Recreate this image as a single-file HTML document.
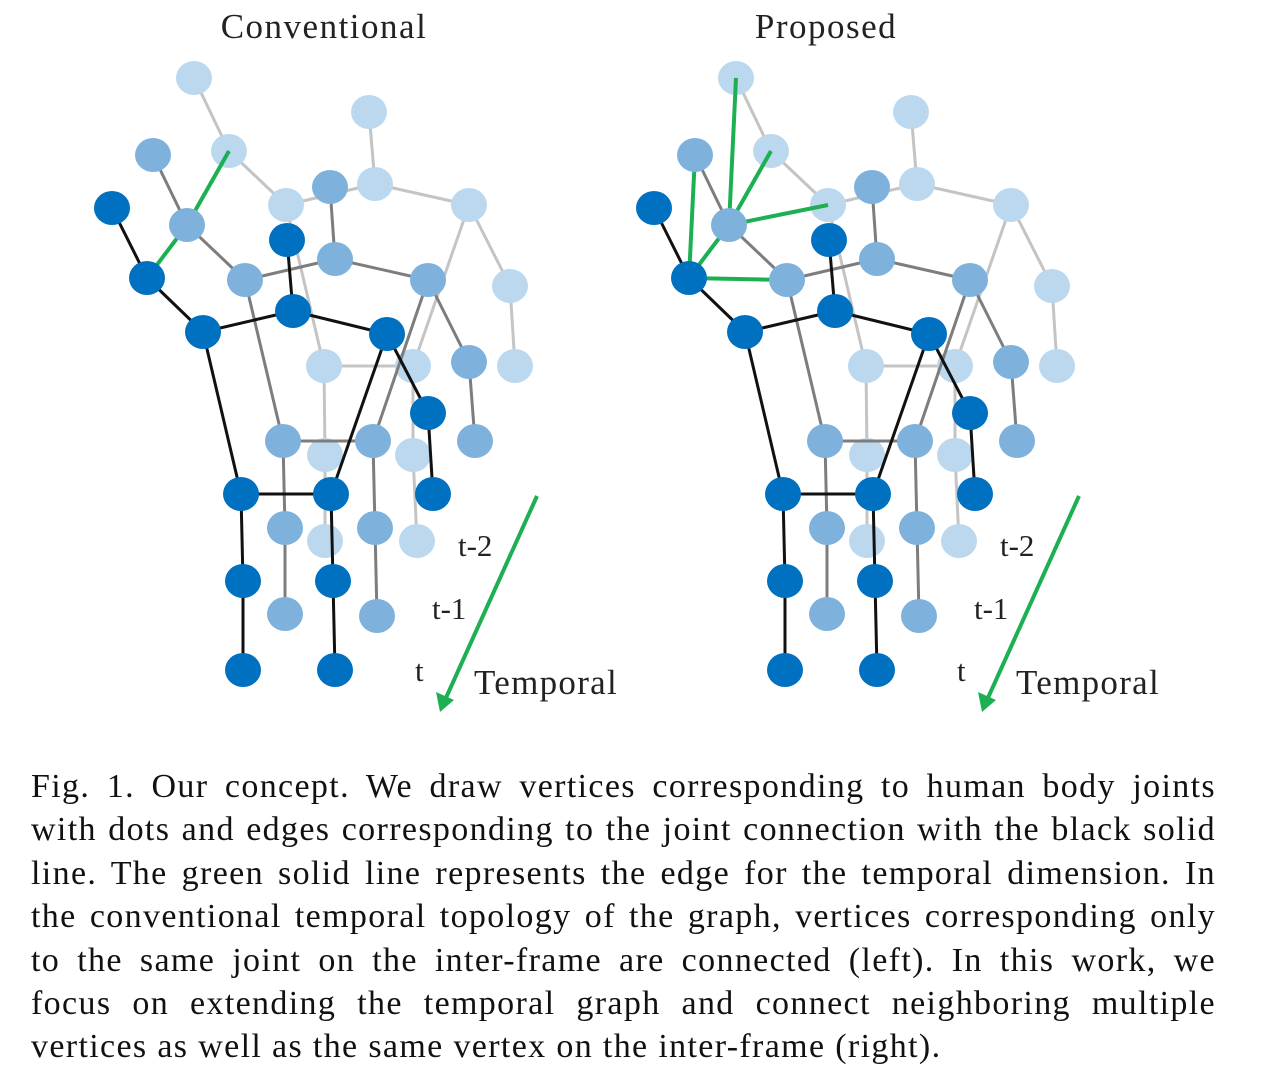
<!DOCTYPE html>
<html><head><meta charset="utf-8"><style>
body{margin:0;background:#fff;width:1274px;height:1082px;overflow:hidden;font-family:"Liberation Serif",serif;}
svg{position:absolute;left:0;top:0}
.cap{position:absolute;left:31px;top:765px;width:1185px;font-size:34px;letter-spacing:1.35px;line-height:43.4px;text-align:justify;text-align-last:justify;color:#111;white-space:nowrap}
.cap span{display:block;white-space:normal}
</style></head><body>
<svg id="s" width="1274" height="760" xmlns="http://www.w3.org/2000/svg" font-family="Liberation Serif, serif">
<text x="324" y="38" font-size="35" letter-spacing="1.5" text-anchor="middle" fill="#222">Conventional</text>
<text x="826" y="38" font-size="35" letter-spacing="1.5" text-anchor="middle" fill="#222">Proposed</text>
<g id="g"></g>
<text x="458" y="556" font-size="31" fill="#222">t-2</text>
<text x="432" y="619" font-size="31" fill="#222">t-1</text>
<text x="415" y="681" font-size="31" fill="#222">t</text>
<text x="474" y="694" font-size="35" letter-spacing="1.3" fill="#222">Temporal</text>
<text x="1000" y="556" font-size="31" fill="#222">t-2</text>
<text x="974" y="619" font-size="31" fill="#222">t-1</text>
<text x="957" y="681" font-size="31" fill="#222">t</text>
<text x="1016" y="694" font-size="35" letter-spacing="1.3" fill="#222">Temporal</text>
</svg>
<div class="cap">
<span>Fig. 1. Our concept. We draw vertices corresponding to human body joints</span>
<span>with dots and edges corresponding to the joint connection with the black solid</span>
<span>line. The green solid line represents the edge for the temporal dimension. In</span>
<span>the conventional temporal topology of the graph, vertices corresponding only</span>
<span>to the same joint on the inter-frame are connected (left). In this work, we</span>
<span>focus on extending the temporal graph and connect neighboring multiple</span>
<span style="text-align-last:left">vertices as well as the same vertex on the inter-frame (right).</span>
</div>
<script>
var D=[[112,208],[147,278],[203,332],[287,240],[293,311],[387,334],[428,413],[433,494],[241,494],[331,494],[243,581],[333,581],[243,670],[335,670]];
var M=[[153,155],[187,225],[245,280],[330,187],[335,259],[428,280],[469,362],[475,441],[283,441],[373,441],[285,528],[375,528],[285,614],[377,616]];
var L=[[194,78],[229,151],[286,205],[369,112],[375,184],[469,205],[510,286],[515,366],[324,366],[413,366],[325,455],[413,455],[325,541],[417,541]];
var E=[[0,1],[1,2],[2,4],[3,4],[4,5],[5,6],[6,7],[2,8],[5,9],[8,9],[8,10],[10,12],[9,11],[11,13]];
var h='';
function edges(P,ox,ec,w){E.forEach(function(e){var a=P[e[0]],b=P[e[1]];h+='<line x1="'+(a[0]+ox)+'" y1="'+a[1]+'" x2="'+(b[0]+ox)+'" y2="'+b[1]+'" stroke="'+ec+'" stroke-width="'+w+'"/>';});}
function nodes(P,ox,nc){P.forEach(function(p){h+='<ellipse cx="'+(p[0]+ox)+'" cy="'+p[1]+'" rx="18" ry="17" fill="'+nc+'"/>';});}
function g(a,b,ox){h+='<line x1="'+(a[0]+ox)+'" y1="'+a[1]+'" x2="'+(b[0]+ox)+'" y2="'+b[1]+'" stroke="#1db053" stroke-width="4"/>';}
[0,542].forEach(function(ox){
 edges(L,ox,'#c4c4c4',3);nodes(L,ox,'#bcd8ee');
 edges(M,ox,'#7d7d7d',3);
 if(ox==0){g(D[1],M[1],0);g(M[1],L[1],0);}
 else{g(D[1],M[1],ox);g(D[1],M[0],ox);g(D[1],M[2],ox);g(M[1],L[0],ox);g(M[1],L[1],ox);g(M[1],L[2],ox);}
 nodes(M,ox,'#7eb2dc');
 edges(D,ox,'#111',3);nodes(D,ox,'#0070c0');
 var ax=537+ox;
 h+='<line x1="'+ax+'" y1="496" x2="'+(ax-92)+'" y2="700" stroke="#1db053" stroke-width="4"/>';
 h+='<polygon points="'+(ax-97)+',712 '+(ax-101)+',692 '+(ax-83)+',700" fill="#1db053"/>';
});
document.getElementById('g').innerHTML=h;
</script>
</body></html>
